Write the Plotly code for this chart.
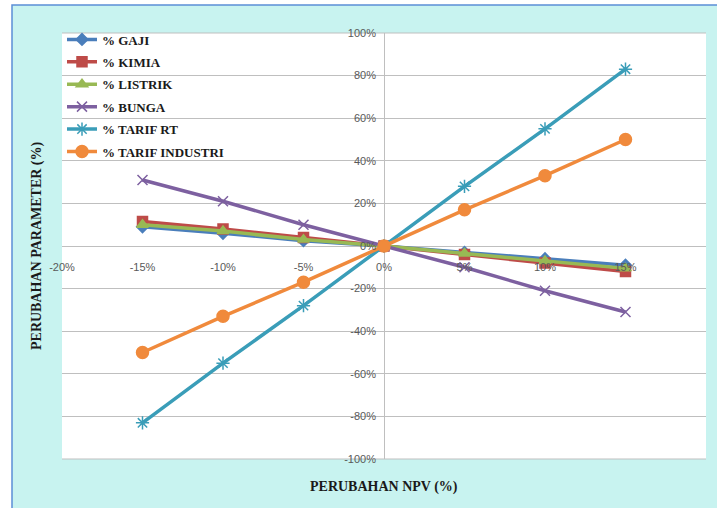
import plotly.graph_objects as go

npv_change = [-0.15, -0.10, -0.05, 0.0, 0.05, 0.10, 0.15]
gaji = [0.09, 0.06, 0.025, 0.0, -0.03, -0.06, -0.09]
kimia = [0.115, 0.08, 0.04, 0.0, -0.04, -0.08, -0.12]
listrik = [0.10, 0.07, 0.03, 0.0, -0.035, -0.07, -0.105]
bunga = [0.31, 0.21, 0.10, 0.0, -0.10, -0.21, -0.31]
tarif_rt = [-0.83, -0.55, -0.28, 0.0, 0.28, 0.55, 0.83]
tarif_industri = [-0.50, -0.33, -0.17, 0.0, 0.17, 0.33, 0.50]

x_tickvals = [-0.20, -0.15, -0.10, -0.05, 0.0, 0.05, 0.10, 0.15, 0.20]
x_ticktext = ["-20%", "-15%", "-10%", "-5%", "0%", "5%", "10%", "15%", "20%"]
y_tickvals = [-1.0, -0.8, -0.6, -0.4, -0.2, 0.0, 0.2, 0.4, 0.6, 0.8, 1.0]
y_ticktext = ["-100%", "-80%", "-60%", "-40%", "-20%", "0%", "20%", "40%", "60%", "80%", "100%"]

series = [
    ("% GAJI", gaji, "#4A7EBB", "diamond", 9),
    ("% KIMIA", kimia, "#BE4B48", "square", 10),
    ("% LISTRIK", listrik, "#98B954", "triangle-up", 10),
    ("% BUNGA", bunga, "#7D60A0", "x-thin", 10),
    ("% TARIF RT", tarif_rt, "#3A9DB8", "asterisk", 11),
    ("% TARIF INDUSTRI", tarif_industri, "#F08A3C", "circle", 12),
]

fig = go.Figure()
for i, (name, vals, color, sym, size) in enumerate(series):
    fig.add_trace(go.Scatter(
        x=npv_change, y=vals, name=name, mode="lines+markers",
        legendgroup="g%d" % i,
        line=dict(color=color, width=3.5),
        marker=dict(symbol=sym, size=size, color=color,
                    line=dict(color=color, width=1.5)),
    ))

W, H = 717, 508
L, R, T, B = 62, 11, 33, 49
pw, ph = W - L - R, H - T - B

def px(xp):
    return (xp - L) / pw

def py(yp):
    return (H - B - yp) / ph

fig.add_shape(type="rect", xref="paper", yref="paper",
              x0=px(12), x1=px(740), y0=py(530), y1=py(5),
              fillcolor="#C8F3F0", line=dict(color="#5B8FD6", width=1.5),
              layer="below")
fig.add_shape(type="rect", xref="paper", yref="paper",
              x0=0, x1=1, y0=0, y1=1,
              fillcolor="white", line=dict(width=0), layer="below")
for yv in (0, 1):
    fig.add_shape(type="line", xref="paper", yref="paper",
                  x0=0, x1=1, y0=yv, y1=yv,
                  line=dict(color="#BFBFBF", width=1), layer="below")

tick_font = dict(family="Liberation Sans Narrow, Arial Narrow, Liberation Sans", size=11, color="#595959")

fig.update_layout(
    width=W, height=H,
    margin=dict(l=L, r=R, t=T, b=B),
    paper_bgcolor="white", plot_bgcolor="white",
    showlegend=True,
    legend=dict(x=0.0, y=1.02, xanchor="left", yanchor="top",
                bgcolor="rgba(0,0,0,0)",
                font=dict(family="Liberation Serif, Times New Roman, serif", size=13,
                          color="#1A1A1A", weight="bold"),
                itemwidth=30, tracegroupgap=2.5),
    xaxis=dict(range=[-0.2, 0.2], tickvals=x_tickvals, ticktext=x_ticktext,
               showgrid=False, zeroline=True, zerolinecolor="#BFBFBF", zerolinewidth=1,
               anchor="free", position=0.5, ticks="", ticklabelstandoff=13,
               tickfont=tick_font, showline=False),
    yaxis=dict(range=[-1.0, 1.0], tickvals=y_tickvals, ticktext=y_ticktext,
               showgrid=True, gridcolor="#BFBFBF", gridwidth=1,
               zeroline=True, zerolinecolor="#BFBFBF", zerolinewidth=1,
               anchor="free", position=0.5, ticks="", ticklabelstandoff=8,
               tickfont=tick_font, showline=False),
    annotations=[
        dict(text="<b>PERUBAHAN NPV (%)</b>", xref="paper", yref="paper",
             x=0.5, y=py(487), xanchor="center", yanchor="middle", showarrow=False,
             font=dict(family="Liberation Serif, Times New Roman, serif", size=14, color="#1A1A1A")),
        dict(text="<b>PERUBAHAN PARAMETER (%)</b>", xref="paper", yref="paper",
             x=px(37), y=0.5, xanchor="center", yanchor="middle", showarrow=False, textangle=-90,
             font=dict(family="Liberation Serif, Times New Roman, serif", size=14, color="#1A1A1A")),
    ],
)

fig.write_html("out.html")
